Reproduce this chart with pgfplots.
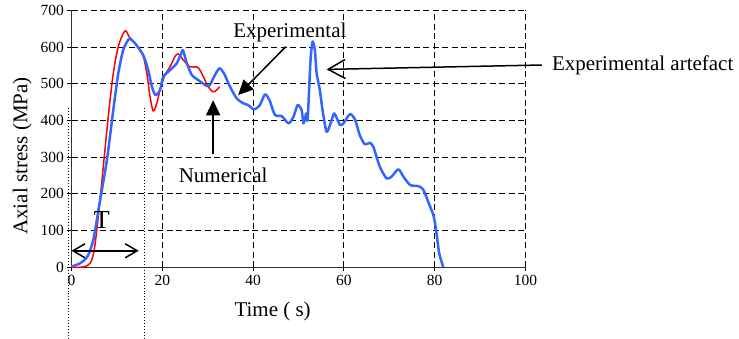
\documentclass[border=0pt]{standalone}
\usepackage{fontspec}
\setmainfont{Liberation Serif}
\usepackage{pgfplots}
\pgfplotsset{compat=1.18}
\usetikzlibrary{arrows.meta}
\definecolor{expblue}{RGB}{51,102,255}
\definecolor{numred}{RGB}{255,0,0}
\begin{document}
\begin{tikzpicture}
\useasboundingbox (0,0) rectangle (739bp,339bp);
\begin{axis}[
 at={(71.5bp,71.7bp)}, anchor=south west,
 scale only axis, width=454bp, height=257bp,
 xmin=0, xmax=100, ymin=0, ymax=700,
 xtick={0,20,...,100}, ytick={0,100,...,700},
 axis x line*=bottom, axis y line*=left,
 axis line style={-, line width=1.3bp, black!80},
 grid=major,
 major grid style={black, line width=0.9bp, dash pattern=on 6bp off 3.5bp},
 tick align=outside, major tick length=4bp,
 tick style={black, line width=0.9bp},
 tick label style={font=\fontsize{15.5bp}{18bp}\selectfont},
 /pgf/number format/assume math mode=true,
 clip=false,
]
\addplot[numred, line width=1.5bp, smooth, tension=0.5] coordinates {
(0,0) (2.6,1) (4.1,11) (5.0,47) (5.9,138) (7.0,274) (8.1,410) (9.2,528) (10.3,601)
(11.4,637) (12.0,644) (12.7,628) (14.0,610) (15.7,578) (16.6,528) (17.3,465) (18.0,426)
(18.8,447) (19.5,483) (20.6,524) (21.7,546) (22.8,574) (23.5,581) (24.6,565) (26.1,546)
(27.6,546) (28.3,537) (29.2,515) (30.1,492) (31.2,478) (32.0,483) (32.6,492)
};
\addplot[expblue, line width=2.5bp, smooth, tension=0.4, line join=round] coordinates {
(0,2) (1.9,11) (3.5,29) (4.8,74) (6.3,183) (7.8,292) (9.2,428) (10.3,528) (11.4,592)
(12.7,622) (14.0,610) (15.8,578) (16.9,537) (17.7,492) (18.5,469) (19.5,483) (20.2,519)
(21.7,537) (23.2,556) (24.3,587) (24.6,590) (25.4,556) (26.5,524) (27.9,510) (29.8,494)
(30.5,497) (31.6,524) (32.6,542) (33.6,528) (34.9,492) (36.4,460) (37.8,447) (38.9,442)
(40.2,430) (41.5,442) (42.6,471) (43.6,456) (44.8,415) (46.3,412) (47.8,392) (48.9,410)
(49.8,442) (50.7,428) (51.1,392) (51.7,419) (52.0,400) (52.4,501) (52.7,574) (53.1,615)
(53.6,592) (54.0,528) (54.7,483) (55.3,428) (56.2,369) (57.2,397) (57.9,419) (59.1,388)
(59.9,392) (61.3,417) (62.4,404) (63.5,360) (64.6,335) (65.7,339) (66.5,328) (67.9,274)
(69.4,242) (70.5,247) (72.0,267) (73.1,247) (74.6,224) (76.4,221) (77.5,211) (79.0,165)
(79.8,138) (80.4,93) (81.0,38) (81.9,0)
};
\node[anchor=base, font=\fontsize{21bp}{25bp}\selectfont] at (axis cs:48.1,626) {Experimental};
\draw[-{Triangle[length=15bp,width=14bp]}, line width=1.5bp] (axis cs:47.2,601) -- (axis cs:36.7,469);
\node[anchor=base, font=\fontsize{21bp}{25bp}\selectfont] at (axis cs:33.4,230.5) {Numerical};
\draw[-{Triangle[length=15bp,width=14bp]}, line width=1.5bp] (axis cs:31.2,308) -- (axis cs:31.2,455);
\node[anchor=base west, inner sep=0pt, font=\fontsize{21bp}{25bp}\selectfont] at (axis cs:105.8,535.5) {Experimental artefact};
\draw[-{Straight Barb[length=17bp,width=19bp]}, line width=1.5bp] (axis cs:103.6,551) -- (axis cs:56.2,539);
\draw[{Straight Barb[length=12bp,width=14bp]}-{Straight Barb[length=12bp,width=14bp]}, line width=1.5bp] (axis cs:0,45) -- (axis cs:14.8,45);
\node[anchor=base, font=\fontsize{26bp}{30bp}\selectfont] at (axis cs:6.7,106) {T};
\draw[dotted, line width=1bp] (axis cs:-0.7,434) -- (axis cs:-0.7,-200);
\draw[dotted, line width=1bp] (axis cs:16,434) -- (axis cs:16,-200);
\node[anchor=base, font=\fontsize{21bp}{25bp}\selectfont] at (axis cs:44.3,-134.6) {Time ( s)};
\node[anchor=base, rotate=90, font=\fontsize{21bp}{25bp}\selectfont] at (axis cs:-9.7,303) {Axial stress (MPa)};
\end{axis}
\end{tikzpicture}
\end{document}
